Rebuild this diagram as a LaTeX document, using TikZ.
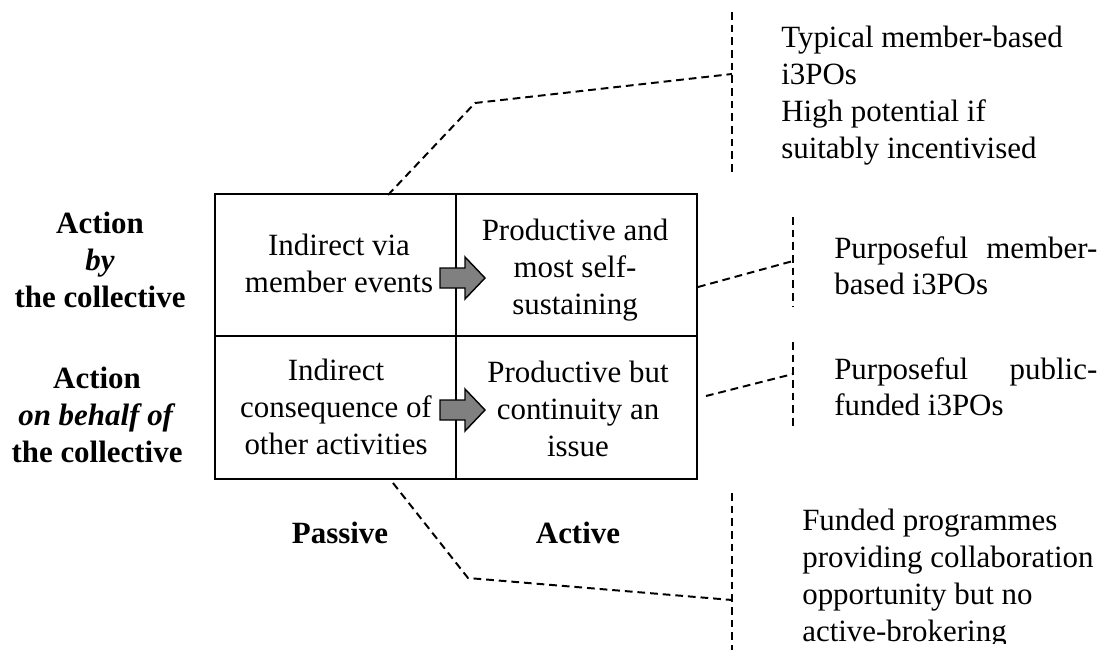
\documentclass[tikz,border=0pt]{standalone}
\usepackage{fontspec}
\setmainfont{Liberation Serif}
\usetikzlibrary{calc}

% grey block arrow, #1 is the middle of its tail
\newcommand{\blockarrow}[1]{%
  \draw[blockarrow] (#1) ++(0,-10) -- ++(25,0) -- ++(0,-11) -- ++(20,21)
    -- ++(-20,21) -- ++(0,-11) -- ++(-25,0) -- cycle;}

\begin{document}
\begin{tikzpicture}[x=0.025cm, y=-0.025cm,
  every node/.style={font=\fontsize{22}{26.2}\selectfont, inner sep=0pt},
  txt/.style={align=center, anchor=north},
  lbl/.style={txt, font=\fontsize{22}{26.2}\selectfont\bfseries},
  note/.style={align=left, anchor=north west},
  grid/.style={line width=2.1pt},
  callout/.style={line width=1.4pt, dash pattern=on 5.5pt off 3.5pt},
  blockarrow/.style={draw=black, line width=1pt, fill=gray}]
\useasboundingbox (0,0) rectangle (1117,650);

% the 2x2 matrix
\draw[grid] (215,194) rectangle (697,479);
\draw[grid] (456,194) -- (456,479);
\draw[grid] (215,336) -- (697,336);

\node[txt] (byPassive) at (339,234) {Indirect via\\member events};
\node[txt] (byActive) at (575,219) {Productive and\\most self-\\sustaining};
\node[txt] (behalfPassive) at (336,359) {Indirect\\consequence of\\other activities};
\node[txt] (behalfActive) at (578,361) {Productive but\\continuity an\\issue};

\blockarrow{440,278}
\blockarrow{440,410}

% row and column headings
\node[lbl] (rowBy) at (100,212) {Action\\\textit{by}\\the collective};
\node[lbl] (rowBehalf) at (97,367) {Action\\\textit{on behalf of}\\the collective};
\node[lbl, anchor=base] (colPassive) at (340,543) {Passive};
\node[lbl, anchor=base] (colActive) at (578,543) {Active};

% notes on the right
\begin{scope}
  \clip (740,0) rectangle (1117,172);
  \node[note] (noteTypical) at (781,26) {Typical member-based\\i3POs\\High potential if\\suitably incentivised};
\end{scope}
\node[note] (noteMember) at (834,236) {\makebox[6.575cm][s]{Purposeful member-}\\based i3POs};
\node[note] (notePublic) at (834,357) {\makebox[6.575cm][s]{Purposeful public-}\\funded i3POs};
\begin{scope}
  \clip (740,480) rectangle (1117,643);
  \node[note] (noteFunded) at (802,509) {Funded programmes\\providing collaboration\\opportunity but no\\active-brokering};
\end{scope}

% dashed callouts
\coordinate (tieTop) at (388,195);
\coordinate (bendTop) at (475,103);
\coordinate (endTop) at (732,74);
\coordinate (tieMember) at (698,287);
\coordinate (endMember) at (793,261);
\coordinate (tiePublic) at (706,396);
\coordinate (endPublic) at (793,374);
\coordinate (tieBottom) at (393,483);
\coordinate (bendBottom) at (468,578);
\coordinate (endBottom) at (732,600);

\draw[callout] (tieTop) -- (bendTop) -- (endTop);
\draw[callout] (tieMember) -- (endMember);
\draw[callout] (tiePublic) -- (endPublic);
\draw[callout] (tieBottom) -- (bendBottom) -- (endBottom);

\draw[callout] (732,12) -- (732,173);
\draw[callout] (793,217) -- (793,307);
\draw[callout] (793,342) -- (793,428);
\draw[callout] (732,493) -- (732,650);
\end{tikzpicture}
\end{document}
